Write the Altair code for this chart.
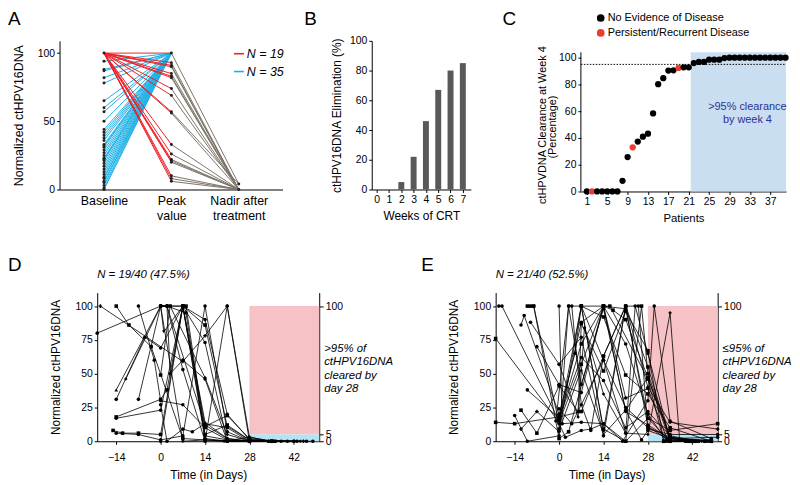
import altair as alt
import pandas as pd

FONT = "Liberation Sans"
RED = "#ec2027"
BLUE = "#1fb1e6"
GRAY = "#7c7468"
PINK = "#f7c2c5"
SKY = "#b4e3f6"
CBLUE = "#c9def0"
NAVY = "#2e3192"

ONE = pd.DataFrame({"k": [0]})

# ---------------- Panel A ----------------
a_categories = ["Baseline", "Peak value", "Nadir after treatment"]
a_red_baseline = 100
a_red_peak = [100, 93, 91, 90, 85, 83, 82, 74, 69, 57, 56, 33, 26, 22, 21, 20, 10, 8, 6]
a_red_nadir = [4, 0, 0, 0, 0, 0, 0, 0, 0, 4, 0, 0, 0, 0, 0, 0, 0, 0, 0]
a_blue_baseline = [94, 88, 87, 82, 78, 65, 60, 57, 50, 44, 42, 40, 38, 36, 33, 32, 31,
                   29, 27, 25, 23, 22, 21, 19, 17, 15, 13, 11, 9, 8, 6, 5, 3, 1, 0]
a_blue_peak = 100
a_legend = ["N = 19", "N = 35"]

rows = []
for i, p in enumerate(a_red_peak):
    rows += [dict(pid=f"r{i}", grp="red", pos=0, val=a_red_baseline),
             dict(pid=f"r{i}", grp="red", pos=1, val=p)]
for i, b in enumerate(a_blue_baseline):
    rows += [dict(pid=f"b{i}", grp="blue", pos=0, val=b),
             dict(pid=f"b{i}", grp="blue", pos=1, val=a_blue_peak)]
for i, (p, n) in enumerate(zip(a_red_peak, a_red_nadir)):
    rows += [dict(pid=f"g{i}", grp="gray", pos=1, val=p),
             dict(pid=f"g{i}", grp="gray", pos=2, val=n)]
a_df = pd.DataFrame(rows)
a_pts = a_df[["pos", "val"]].drop_duplicates()

xA = alt.X("pos:Q", scale=alt.Scale(domain=[-0.66, 2.65], nice=False, zero=False),
           axis=alt.Axis(values=[0, 1, 2], ticks=False, labelFontSize=12.5, labelLineHeight=15,
                         labelPadding=5, title=None,
                         labelExpr="datum.value == 0 ? 'Baseline' : datum.value == 1 ? ['Peak', 'value'] : ['Nadir after', 'treatment']"))
yA_scale = alt.Scale(domain=[0, 109], nice=False)
yA = alt.Y("val:Q", scale=yA_scale,
           axis=alt.Axis(values=[0, 50, 100], title="Normalized ctHPV16DNA", titleFontSize=12.5, titlePadding=12))

A = alt.layer(
    alt.Chart(a_df).transform_filter("datum.grp == 'blue'").mark_line(color=BLUE, strokeWidth=1).encode(x=xA, y=yA, detail="pid:N"),
    alt.Chart(a_df).transform_filter("datum.grp == 'red'").mark_line(color=RED, strokeWidth=1).encode(x=xA, y=yA, detail="pid:N"),
    alt.Chart(a_df).transform_filter("datum.grp == 'gray'").mark_line(color=GRAY, strokeWidth=1).encode(x=xA, y=yA, detail="pid:N"),
    alt.Chart(a_pts).mark_circle(size=9, color="#222", opacity=1).encode(x=xA, y=yA),
    alt.Chart(ONE).mark_rule(color=RED, strokeWidth=1.6).encode(x=alt.value(176), x2=alt.value(186), y=alt.value(13)),
    alt.Chart(ONE).mark_rule(color=BLUE, strokeWidth=1.6).encode(x=alt.value(176), x2=alt.value(186), y=alt.value(31)),
    alt.Chart(ONE).mark_text(align="left", baseline="middle", fontStyle="italic", fontSize=12.5).encode(
        x=alt.value(189), y=alt.value(13), text=alt.value(a_legend[0])),
    alt.Chart(ONE).mark_text(align="left", baseline="middle", fontStyle="italic", fontSize=12.5).encode(
        x=alt.value(189), y=alt.value(31), text=alt.value(a_legend[1])),
    alt.Chart(ONE).mark_text(align="left", baseline="top", fontSize=19).encode(
        x=alt.value(-52), y=alt.value(-31), text=alt.value("A")),
).properties(width=225, height=150)

# ---------------- Panel B ----------------
b_weeks = [0, 1, 2, 3, 4, 5, 6, 7]
b_elimination = [0, 0, 5, 22, 46, 67, 80, 85]
b_df = pd.DataFrame({"week": b_weeks, "elim": b_elimination})

B = alt.layer(
    alt.Chart(b_df).mark_bar(size=6, color="#595959").encode(
        x=alt.X("week:Q", scale=alt.Scale(domain=[0, 7.25], nice=False, zero=False),
                axis=alt.Axis(values=b_weeks, title="Weeks of CRT", titlePadding=6)),
        y=alt.Y("elim:Q", scale=alt.Scale(domain=[0, 100], nice=False),
                axis=alt.Axis(values=[0, 20, 40, 60, 80, 100], title="ctHPV16DNA Elimination (%)", titlePadding=6))),
    alt.Chart(ONE).mark_text(align="left", baseline="top", fontSize=19).encode(
        x=alt.value(-68), y=alt.value(-31), text=alt.value("B")),
).properties(width=100, height=150)

# ---------------- Panel C ----------------
c_patients = list(range(1, 41))
c_clearance = [0, 0, 0, 0, 0, 0, 0, 8, 25.7, 33, 37.3, 41, 43.2, 58.3, 80.2, 84.7, 90.4, 90.6,
               92.3, 92.8, 92.8, 96, 96.8, 96.8, 98.5, 98.5, 98.5, 99.7,
               100, 100, 100, 100, 100, 100, 100, 100, 100, 100, 100, 100]
c_status = ["NED"] * 40
for k in (2, 10, 19):
    c_status[k - 1] = "PRD"
c_df = pd.DataFrame({"pat": c_patients, "clr": c_clearance, "st": c_status})
c_shade = pd.DataFrame({"pat": [21.4], "pat2": [40.1], "clr": [0], "clr2": [104]})
c_thr = pd.DataFrame({"pat": [-0.17], "pat2": [40.1], "clr": [95]})
c_axisline = pd.DataFrame({"pat": [-0.17], "clr": [0], "clr2": [104]})
c_ytitle = ["ctHPVDNA Clearance at Week 4", "(Percentage)"]

xC_scale = alt.Scale(domain=[-0.17, 40.1], nice=False, zero=False)
yC_scale = alt.Scale(domain=[0, 112.6], nice=False)
xC = alt.X("pat:Q", scale=xC_scale,
           axis=alt.Axis(values=list(range(1, 41, 4)), title="Patients", titleFontSize=11.5, titlePadding=6))
yC = alt.Y("clr:Q", scale=yC_scale,
           axis=alt.Axis(values=[0, 20, 40, 60, 80, 100], domain=False, title=None))

C = alt.layer(
    alt.Chart(c_shade).mark_rect(color=CBLUE).encode(x=xC, x2="pat2:Q", y=yC, y2="clr2:Q"),
    alt.Chart(c_thr).mark_rule(color="black", strokeDash=[1.5, 1.5], strokeWidth=1).encode(x=xC, x2="pat2:Q", y=yC),
    alt.Chart(c_axisline).mark_rule(color="black", strokeWidth=1).encode(x=xC, y=yC, y2="clr2:Q"),
    alt.Chart(c_df).mark_circle(size=40, opacity=1).encode(
        x=xC, y=yC,
        color=alt.Color("st:N", scale=alt.Scale(domain=["NED", "PRD"], range=["#000000", "#ef3b2c"]), legend=None)),
    alt.Chart(ONE).mark_text(align="center", baseline="middle", fontSize=11, angle=270).encode(
        x=alt.value(-38), y=alt.value(85), text=alt.value(c_ytitle[0])),
    alt.Chart(ONE).mark_text(align="center", baseline="middle", fontSize=11, angle=270).encode(
        x=alt.value(-28), y=alt.value(87), text=alt.value(c_ytitle[1])),
    alt.Chart(ONE).mark_circle(size=60, opacity=1, color="#000000").encode(x=alt.value(20), y=alt.value(-23)),
    alt.Chart(ONE).mark_circle(size=60, opacity=1, color="#ef3b2c").encode(x=alt.value(20), y=alt.value(-8)),
    alt.Chart(ONE).mark_text(align="left", baseline="middle", fontSize=11).encode(
        x=alt.value(27), y=alt.value(-23), text=alt.value("No Evidence of Disease")),
    alt.Chart(ONE).mark_text(align="left", baseline="middle", fontSize=11).encode(
        x=alt.value(27), y=alt.value(-8), text=alt.value("Persistent/Recurrent Disease")),
    alt.Chart(ONE).mark_text(align="center", baseline="middle", fontSize=11, color=NAVY).encode(
        x=alt.value(168), y=alt.value(67), text=alt.value(">95% clearance")),
    alt.Chart(ONE).mark_text(align="center", baseline="middle", fontSize=11, color=NAVY).encode(
        x=alt.value(168), y=alt.value(80), text=alt.value("by week 4")),
    alt.Chart(ONE).mark_text(align="left", baseline="top", fontSize=19).encode(
        x=alt.value(-79), y=alt.value(-31), text=alt.value("C")),
).properties(width=207, height=152)

# ---------------- Panels D / E ----------------
SHAPES = ["circle", "square", "triangle-up", "cross", "diamond", "triangle-down"]

d_trajectories = [
    [(-19, 100), (7, 59), (14, 78), (21, 100), (28, 3), (35, 0), (45, 0)],
    [(-20, 80), (0, 100), (2, 100), (14, 12), (21, 2), (28, 0), (34, 0)],
    [(-14, 100), (-10, 86), (-3, 70), (7, 2), (14, 1), (28, 0)],
    [(-7, 100), (-2, 60), (0, 30), (7, 27), (14, 10), (21, 1), (28, 0), (40, 0)],
    [(-14, 38), (0, 100), (7, 100), (14, 14), (21, 2), (28, 0), (36, 0)],
    [(-14, 31), (-5, 77), (0, 69), (7, 100), (14, 90), (21, 20), (28, 1), (42, 0)],
    [(-11, 46), (0, 100), (3, 100), (14, 47), (21, 5), (28, 0), (44, 0)],
    [(-7, 31), (0, 100), (2, 100), (8, 95), (14, 2), (21, 0), (28, 0)],
    [(-14, 18), (0, 31), (2, 38), (7, 100), (14, 86), (21, 11), (28, 1), (35, 0)],
    [(-14, 17), (0, 23), (7, 100), (14, 73), (21, 0), (28, 0), (42, 0)],
    [(-15, 8), (-12, 6), (-7, 6), (0, 5), (7, 100), (14, 11), (21, 19), (28, 2), (35, 0)],
    [(-14, 6), (-7, 5), (0, 1), (7, 4), (14, 100), (21, 7), (28, 0), (46, 0)],
    [(0, 100), (1, 81), (7, 100), (14, 4), (21, 1), (28, 0), (35, 0)],
    [(0, 100), (2, 100), (3, 50), (7, 60), (14, 46), (21, 0), (28, 0), (43, 0)],
    [(0, 49), (3, 100), (8, 100), (14, 5), (21, 12), (28, 1), (36, 0)],
    [(0, 27), (2, 0), (7, 9), (10, 7), (14, 13), (21, 10), (28, 0)],
    [(0, 100), (7, 0), (14, 1), (20, 0), (28, 3), (35, 0), (42, 0)],
    [(0, 0), (7, 100), (14, 1), (21, 0), (28, 0), (34, 0), (48, 0)],
    [(0, 100), (2, 100), (7, 53), (14, 0), (21, 100), (28, 0), (38, 0)],
]
d_shapes = ["cross", "circle", "square", "circle", "triangle-up", "circle", "diamond", "circle", "square",
            "circle", "square", "circle", "triangle-down", "circle", "square", "circle", "diamond", "circle", "circle"]

e_trajectories = [
    [(-19, 100), (-18, 100), (0, 15), (7, 88), (14, 100), (21, 22), (28, 12), (35, 2), (42, 0)],
    [(-20, 76), (0, 14), (7, 57), (14, 100), (21, 98), (28, 17), (35, 8), (50, 13)],
    [(-20, 14), (-14, 13), (0, 18), (7, 22), (14, 63), (21, 100), (28, 55), (35, 1), (42, 0)],
    [(-10, 100), (-9, 100), (-8, 100), (0, 2), (3, 7), (14, 100), (16, 100), (28, 46), (33, 0), (40, 0)],
    [(-12, 86), (-11, 93), (0, 20), (5, 65), (7, 100), (14, 60), (21, 25), (28, 10), (35, 3), (48, 0)],
    [(-14, 19), (-10, 0), (0, 4), (3, 100), (14, 100), (21, 32), (28, 39), (34, 2), (47, 0)],
    [(-12, 9), (-7, 22), (0, 7), (7, 100), (14, 8), (21, 100), (28, 40), (35, 14), (50, 9)],
    [(-12, 23), (-7, 6), (0, 41), (6, 22), (7, 87), (14, 52), (21, 96), (28, 67), (33, 0), (46, 0)],
    [(-9, 88), (0, 57), (7, 77), (14, 4), (21, 100), (25, 100), (28, 9), (35, 5), (50, 5)],
    [(-8, 100), (0, 13), (2, 3), (7, 8), (10, 9), (14, 13), (21, 0), (28, 17), (35, 0), (44, 0)],
    [(0, 100), (1, 13), (7, 14), (14, 13), (20, 0), (28, 30), (30, 100), (35, 15), (48, 2)],
    [(0, 57), (6, 18), (8, 84), (14, 35), (21, 6), (28, 5), (35, 95), (38, 1), (45, 0)],
    [(-7, 70), (0, 42), (7, 36), (14, 100), (21, 72), (28, 20), (34, 0), (42, 0)],
    [(0, 9), (0, 16), (7, 100), (14, 92), (21, 49), (28, 35), (35, 10), (48, 0)],
    [(-1, 15), (3, 100), (7, 42), (14, 98), (21, 23), (26, 1), (28, 8), (35, 2), (50, 3)],
    [(0, 16), (7, 72), (14, 100), (17, 97), (21, 90), (28, 47), (35, 0), (41, 0)],
    [(-10, 38), (0, 17), (7, 62), (14, 45), (21, 10), (28, 22), (35, 4), (44, 0)],
    [(0, 8), (7, 53), (14, 5), (21, 23), (28, 47), (35, 3), (42, 0)],
    [(4, 100), (7, 27), (10, 8), (14, 63), (21, 100), (28, 11), (35, 0), (42, 0)],
    [(0, 24), (4, 13), (14, 60), (21, 6), (24, 100), (28, 65), (35, 1), (48, 1)],
    [(7, 100), (14, 9), (21, 0), (26, 100), (28, 50), (35, 3), (43, 0), (48, 0)],
]
e_shapes = ["circle", "square", "square", "square", "circle", "circle", "cross", "square", "circle", "circle",
            "circle", "diamond", "circle", "square", "circle", "square", "circle", "triangle-up", "circle",
            "circle", "square"]

d_title = "N = 19/40 (47.5%)"
e_title = "N = 21/40 (52.5%)"
d_side = [">95% of", "ctHPV16DNA", "cleared by", "day 28"]
e_side = [" \u226495% of", "ctHPV16DNA", "cleared by", "day 28"]


def time_panel(trajs, shapes, title_txt, side_txt, letter, letter_x):
    rows = []
    for i, (tr, sh) in enumerate(zip(trajs, shapes)):
        for j, (d, v) in enumerate(tr):
            rows.append(dict(pid=i, ord=j, day=d, val=v, shp=sh))
    df = pd.DataFrame(rows)
    xs = alt.Scale(domain=[-20, 50], nice=False, zero=False)
    ys = alt.Scale(domain=[0, 110], nice=False)
    x = alt.X("day:Q", scale=xs, axis=alt.Axis(values=[-14, 0, 14, 28, 42], title="Time (in Days)",
                                                labelPadding=8, titlePadding=7))
    y_left = alt.Y("val:Q", scale=ys, axis=alt.Axis(values=[0, 25, 50, 75, 100],
                                                    title="Normalized ctHPV16DNA", titlePadding=13))
    y_none = alt.Y("val:Q", scale=ys, axis=None)
    y_right = alt.Y("val:Q", scale=ys, axis=alt.Axis(orient="right", values=[0, 5, 100], title=None,
                                                     tickSize=4))
    pink = pd.DataFrame({"day": [28], "day2": [50], "val": [5], "val2": [100]})
    sky = pd.DataFrame({"day": [28], "day2": [50], "val": [0], "val2": [5]})
    return alt.layer(
        alt.Chart(pink).mark_rect(color=PINK).encode(x=x, x2="day2:Q", y=y_left, y2="val2:Q"),
        alt.Chart(sky).mark_rect(color=SKY).encode(x=x, x2="day2:Q", y=y_none, y2="val2:Q"),
        alt.Chart(pink).mark_point(opacity=0).encode(x=x, y=y_right),
        alt.Chart(df).mark_line(color="black", strokeWidth=0.8).encode(x=x, y=y_none, detail="pid:N", order="ord:Q"),
        alt.Chart(df).mark_point(filled=True, size=13, color="black", opacity=1).encode(
            x=x, y=y_none,
            shape=alt.Shape("shp:N", scale=alt.Scale(domain=SHAPES, range=SHAPES), legend=None)),
        alt.Chart(ONE).mark_text(align="left", baseline="middle", fontStyle="italic", fontSize=11.5).encode(
            x=alt.value(0), y=alt.value(-18), text=alt.value(title_txt)),
        alt.Chart(ONE).mark_text(align="left", baseline="alphabetic", fontStyle="italic", fontSize=11.5,
                                 lineHeight=13.5).encode(
            x=alt.value(229), y=alt.value(60), text=alt.value(side_txt)),
        alt.Chart(ONE).mark_text(align="left", baseline="top", fontSize=19).encode(
            x=alt.value(letter_x), y=alt.value(-37), text=alt.value(letter)),
    ).resolve_axis(y="independent").properties(width=224, height=150)


D = time_panel(d_trajectories, d_shapes, d_title, d_side, "D", -90)
E = time_panel(e_trajectories, e_shapes, e_title, e_side, "E", -75)

spacer = alt.Chart(ONE).mark_point(opacity=0).encode(x=alt.value(0), y=alt.value(0)).properties(width=38, height=150)

row1 = alt.hconcat(A, alt.hconcat(B, C, spacing=111, bounds="flush"), spacing=90, bounds="flush")
row2 = alt.hconcat(spacer, alt.hconcat(D, E, spacing=178, bounds="flush"), spacing=0, bounds="flush")

chart = alt.vconcat(row1, row2, spacing=254, bounds="flush").properties(padding=0).configure_view(
    stroke=None
).configure_axis(
    grid=False, domainColor="black", tickColor="black", labelColor="black", titleColor="black",
    labelFont=FONT, titleFont=FONT, labelFontSize=10.5, titleFontSize=12, titleFontWeight="normal",
    tickSize=3, labelFlush=False, labelOverlap=False, domainWidth=1, tickWidth=1
).configure_text(font=FONT, color="black")

chart.save("out.html", embed_options={"renderer": "svg", "actions": False})
